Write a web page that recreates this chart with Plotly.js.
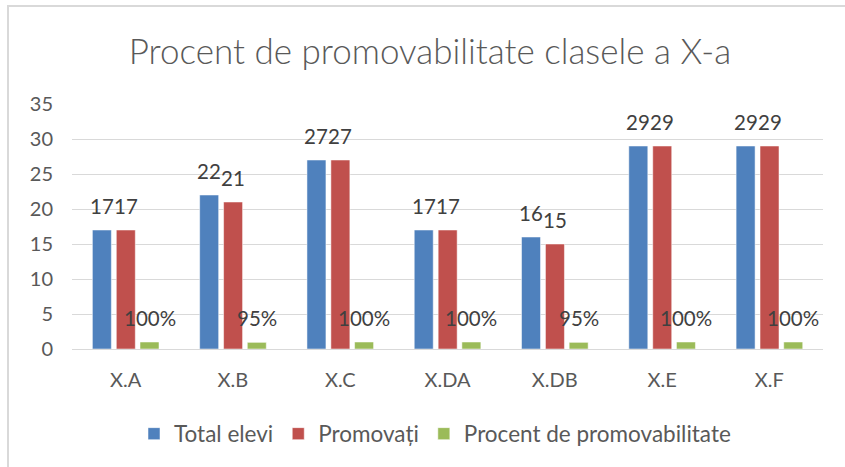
<!DOCTYPE html>
<html>
<head>
<meta charset="utf-8">
<script src="https://cdn.plot.ly/plotly-3.0.1.min.js"></script>
<style>
  html, body { margin: 0; padding: 0; background: #ffffff; }
  #frame { position: absolute; left: 7px; top: 5px; width: 845px; height: 470px;
           border-left: 2px solid #d9d9d9; border-top: 2px solid #d9d9d9; box-sizing: border-box; }
  #chart { position: absolute; left: 0; top: 0; width: 845px; height: 467px; }
</style>
</head>
<body>
<div id="frame"></div>
<div id="chart"></div>
<script>
// ---- data ----
const categories = ["X.A", "X.B", "X.C", "X.DA", "X.DB", "X.E", "X.F"];
const totalElevi = [17, 22, 27, 17, 16, 29, 29];
const promovati  = [17, 21, 27, 17, 15, 29, 29];
const procent    = [1.00, 0.95, 1.00, 1.00, 0.95, 1.00, 1.00];
const seriesNames = ["Total elevi", "Promovați", "Procent de promovabilitate"];

// ---- style ----
const colors = ["#4F81BD", "#C0504D", "#9BBB59"];
const barWidth = 0.177;
const offsets = [-0.31, -0.087, 0.134];
const FONT = "Lato, 'Open Sans', sans-serif";

const seriesValues = [totalElevi, promovati, procent];
const labelFmt = [v => String(v), v => String(v), v => Math.round(v * 100) + "%"];

const traces = seriesValues.map((vals, i) => ({
  type: "bar",
  name: seriesNames[i],
  x: categories,
  y: vals,
  width: barWidth,
  offset: offsets[i],
  marker: { color: colors[i], line: { color: "rgba(255,255,255,0.5)", width: 1 } },
  hoverinfo: "skip"
}));

const annotations = [];
seriesValues.forEach((vals, i) => {
  vals.forEach((v, j) => {
    annotations.push({
      xref: "x", yref: "y",
      x: j + offsets[i] + barWidth / 2,
      y: v,
      text: labelFmt[i](v),
      showarrow: false,
      xanchor: "center", yanchor: "bottom",
      yshift: 10,
      font: { family: FONT, size: 20.5, color: "#404040" }
    });
  });
});

const layout = {
  width: 845, height: 467,
  paper_bgcolor: "rgba(0,0,0,0)",
  plot_bgcolor: "rgba(0,0,0,0)",
  margin: { l: 72, r: 22, t: 104, b: 118 },
  title: {
    text: "Procent de promovabilitate clasele a X-a",
    x: 430 / 845, xanchor: "center", xref: "container",
    y: 1 - 52 / 467, yanchor: "middle", yref: "container",
    font: { family: FONT, size: 35, color: "#595959", weight: 300 }
  },
  barmode: "overlay",
  showlegend: true,
  legend: {
    orientation: "h",
    x: 435 / 845, xanchor: "center", xref: "container",
    y: 1 - 434 / 467, yanchor: "middle", yref: "container",
    font: { family: FONT, size: 22.5, color: "#595959" },
    itemwidth: 30,
    traceorder: "normal"
  },
  xaxis: {
    type: "category",
    tickfont: { family: FONT, size: 20, color: "#595959" },
    showgrid: false,
    showline: true, linecolor: "#d9d9d9", linewidth: 1,
    ticks: "",
    ticklabelstandoff: 13,
    fixedrange: true
  },
  yaxis: {
    range: [0, 35],
    dtick: 5,
    tick0: 0,
    tickfont: { family: FONT, size: 20, color: "#595959" },
    showgrid: true, gridcolor: "#d9d9d9", gridwidth: 1,
    zeroline: true, zerolinecolor: "#d9d9d9", zerolinewidth: 1,
    showline: false,
    ticks: "",
    ticklabelstandoff: 18,
    fixedrange: true
  },
  annotations: annotations
};

Plotly.newPlot("chart", traces, layout, { displayModeBar: false, staticPlot: true });
</script>
</body>
</html>
